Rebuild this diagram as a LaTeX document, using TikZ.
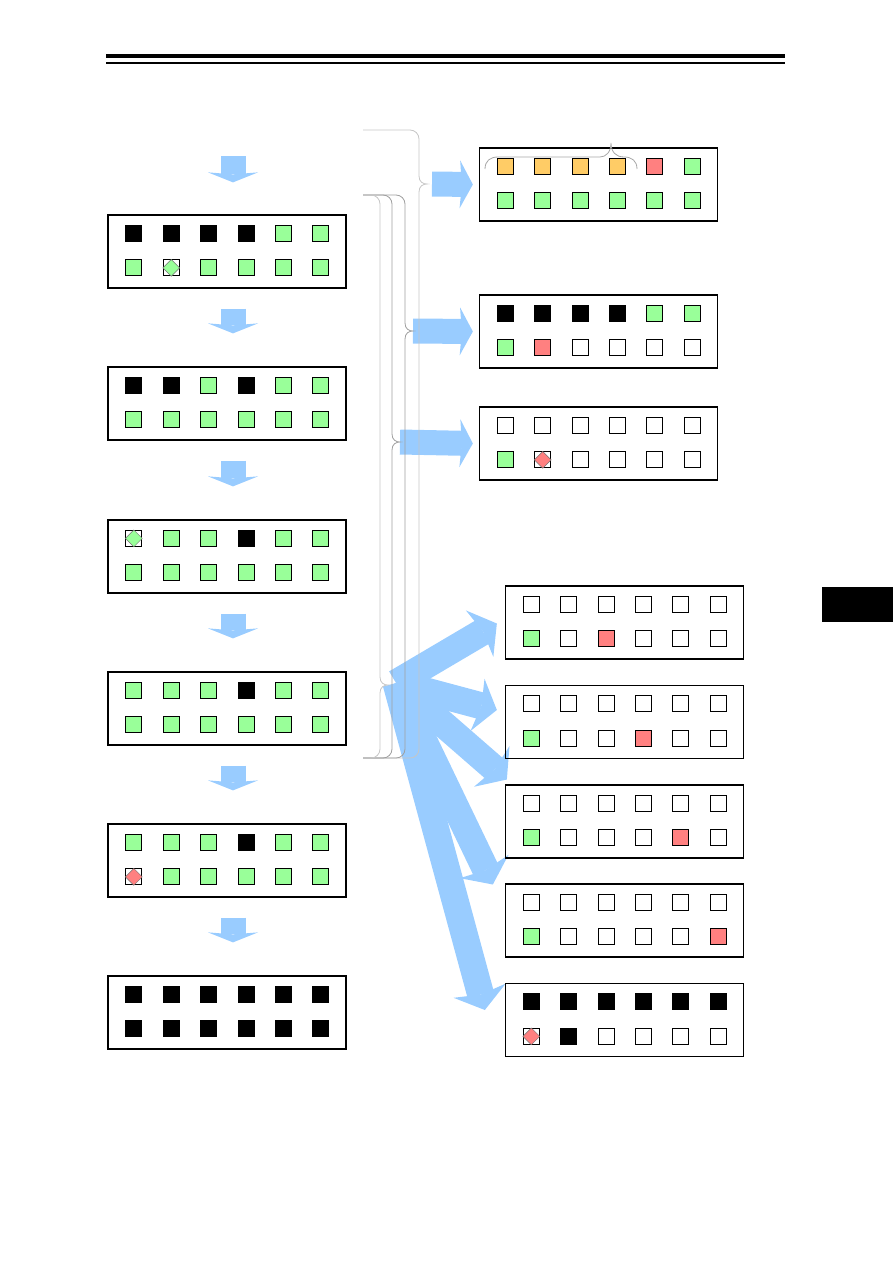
\documentclass[tikz,border=0pt]{standalone}
\usepackage{tikz}
\usetikzlibrary{arrows.meta, positioning, shapes.geometric, calc, backgrounds}
\definecolor{cellgreen}{RGB}{153,255,153}
\definecolor{cellorange}{RGB}{255,204,102}
\definecolor{cellred}{RGB}{255,128,128}
\definecolor{flowblue}{RGB}{153,204,255}

\begin{document}
\begin{tikzpicture}[
  x=1pt, y=-1pt,
  panel/.style={draw, line width=1.3pt, minimum width=238pt, minimum height=73pt,
                inner sep=0pt},
  cell/.style={draw, line width=1pt, minimum size=16pt, inner sep=0pt, fill=white},
  cellK/.style={cell, fill=black},
  cellG/.style={cell, fill=cellgreen},
  cellO/.style={cell, fill=cellorange},
  cellR/.style={cell, fill=cellred},
  cellW/.style={cell},
  gem/.style={diamond, draw=black!55, line width=0.5pt, inner sep=0pt,
              minimum width=17pt, minimum height=17pt},
  cellDG/.style={cell, label={[gem, fill=cellgreen]center:}},
  cellDR/.style={cell, label={[gem, fill=cellred]center:}},
  downflow/.style={line width=25pt, draw=flowblue,
                   -{Stealth[length=10pt, width=50pt, inset=2pt, line width=0pt]}},
  sideflow/.style={line width=25pt, draw=flowblue,
                   -{Stealth[length=13pt, width=48pt, inset=2pt, line width=0pt]}},
  fanflow/.style={line width=27pt, draw=flowblue,
                  -{Stealth[length=20pt, width=54pt, inset=4pt, line width=0pt]}},
  brace/.style={line width=0.8pt}
]
\useasboundingbox (0,0) rectangle (893,1263);

% page rules and side tab
\draw[line width=4pt] (106,56) -- (785,56);
\draw[line width=1.2pt] (106,63) -- (785,63);
\fill (822,587) rectangle (893,622);

% panels with their 2x6 cells
\foreach \pn/\px/\py/\cells in {
  L1/227/251.5/{K,K,K,K,G,G,G,DG,G,G,G,G},
  L2/227/403.5/{K,K,G,K,G,G,G,G,G,G,G,G},
  L3/227/556.5/{DG,G,G,K,G,G,G,G,G,G,G,G},
  L4/227/708.5/{G,G,G,K,G,G,G,G,G,G,G,G},
  L5/227/860.5/{G,G,G,K,G,G,DR,G,G,G,G,G},
  L6/227/1012.5/{K,K,K,K,K,K,K,K,K,K,K,K},
  R1/598.5/184.5/{O,O,O,O,R,G,G,G,G,G,G,G},
  R2/598.5/331.5/{K,K,K,K,G,G,G,R,W,W,W,W},
  R3/598.5/443.5/{W,W,W,W,W,W,G,DR,W,W,W,W},
  F1/624.5/622.5/{W,W,W,W,W,W,G,W,R,W,W,W},
  F2/624.5/722/{W,W,W,W,W,W,G,W,W,R,W,W},
  F3/624.5/821.5/{W,W,W,W,W,W,G,W,W,W,R,W},
  F4/624.5/920.5/{W,W,W,W,W,W,G,W,W,W,W,R},
  F5/624.5/1020/{K,K,K,K,K,K,DR,K,W,W,W,W}} {
  \node[panel] (\pn) at (\px,\py) {};
  \foreach \c [count=\i from 0] in \cells {
    \pgfmathtruncatemacro\col{mod(\i,6)}
    \pgfmathtruncatemacro\row{\i/6}
    \node[cell\c] (\pn-\i) at ($(\pn.north west)+(26.5+37.4*\col,19+34.5*\row)$) {};
  }
}

% braces on the left of the right column
\foreach \bn/\bx/\bt/\bm/\bc in {A/419/130/184/45, B/405/195/331/75,
                                 C/392/195/442/75, D/380/195/685/45} {
  \draw[brace, draw=gray!\bc] (363,\bt) -- (\bx-9,\bt)
    .. controls (\bx-4,\bt) and (\bx,\bt+4) .. (\bx,\bt+9) -- (\bx,\bm-8)
    .. controls (\bx,\bm-2) and (\bx+4,\bm) .. (\bx+8,\bm)
    .. controls (\bx+4,\bm) and (\bx,\bm+2) .. (\bx,\bm+8) -- (\bx,749)
    .. controls (\bx,754) and (\bx-4,758) .. (\bx-9,758) -- (363,758);
  \coordinate (tip\bn) at (\bx+8,\bm);
}

% small brace over the orange cells
\draw[brace, draw=gray!70] (485,169) .. controls (485,161) and (490,157) .. (498,157)
  -- (600,157) .. controls (606,157) and (611,152) .. (611,143)
  .. controls (611,152) and (616,157) .. (624,157)
  .. controls (632,157) and (637,161) .. (637,169);

% flow arrows
\begin{scope}[on background layer]
  \draw[downflow] ($(L1.north)+(6,-58)$) -- ($(L1.north)+(6,-32)$);
  \foreach \a/\b in {L1/L2,L2/L3,L3/L4,L4/L5,L5/L6}
    \draw[downflow] ($(\a.south)+(6,20)$) -- ($(\b.north)+(6,-33)$);

  \draw[sideflow] ($(tipA)+(5,0)$) -- ($(R1.west)+(-6,0)$);
  \draw[sideflow] (tipB) -- ($(R2.west)+(-6,0)$);
  \draw[sideflow] (tipC) -- ($(R3.west)+(-6,0)$);

  \coordinate (fan) at ($(tipD)+(8,-2)$);
  \foreach \f/\dx/\dy in {F1/-8/1, F2/-8/-12, F3/2/-42, F4/-12/-36, F5/-20/-10}
    \draw[fanflow] (fan) -- ($(\f.west)+(\dx,\dy)$);
\end{scope}

\end{tikzpicture}
\end{document}
